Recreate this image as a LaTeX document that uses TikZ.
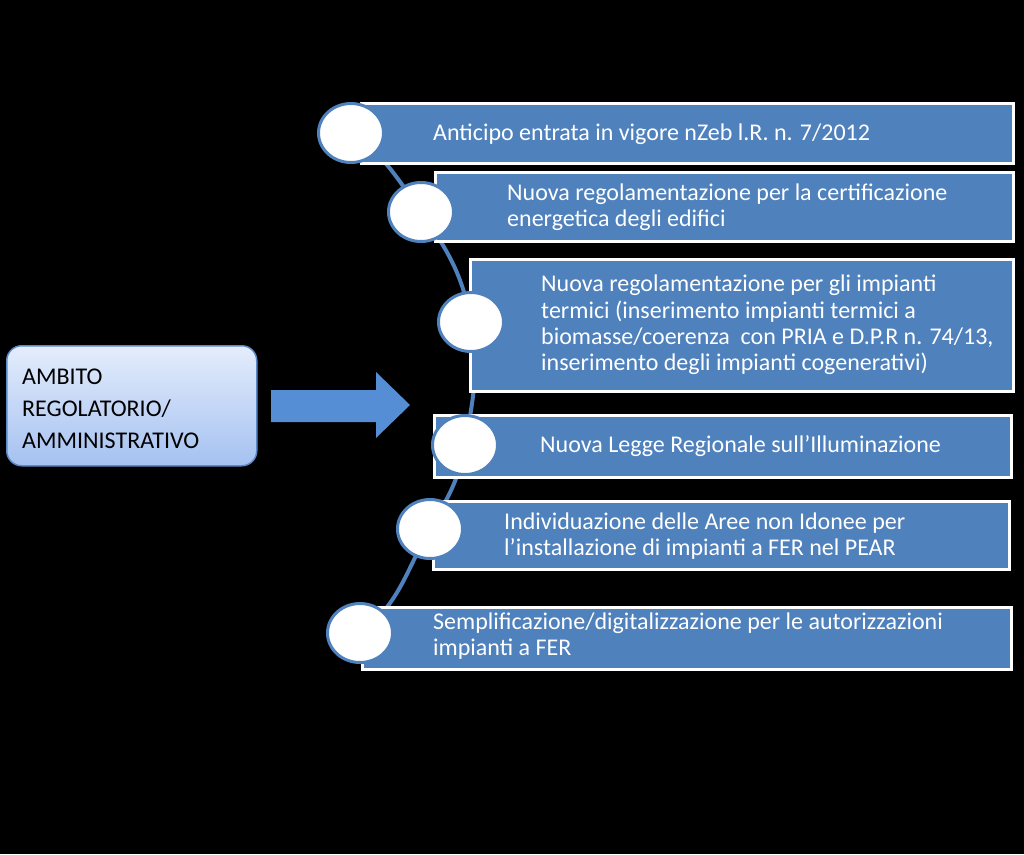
\documentclass[tikz,border=0pt]{standalone}
\usepackage{fontspec}
\setmainfont{Carlito}
\usetikzlibrary{shapes.geometric}
\definecolor{boxblue}{HTML}{4F81BD}
\definecolor{arrowblue}{HTML}{558ED5}
\definecolor{ambtop}{HTML}{E4EDFC}
\definecolor{ambbot}{HTML}{A5C1F1}
\definecolor{ambedge}{HTML}{5C8AC8}
\begin{document}
\begin{tikzpicture}[x=1pt,y=-1pt,
  itembox/.style={rectangle, fill=boxblue, draw=white, line width=2.5pt, anchor=north west, inner sep=0},
  dot/.style={ellipse, fill=white, draw=boxblue, line width=3pt, minimum width=65pt, minimum height=59pt, inner sep=0},
  itemtext/.style={anchor=west, text=white, font=\fontsize{24}{26.3}\selectfont, align=left, inner sep=0},
  arcline/.style={draw=boxblue, line width=4pt},
  ambbox/.style={rectangle, rounded corners=15pt, top color=ambtop, bottom color=ambbot, draw=ambedge, line width=1.5pt, anchor=north west, minimum width=250pt, minimum height=120pt, inner sep=0},
  ambtext/.style={anchor=west, text=black, font=\fontsize{24}{32}\selectfont, align=left, inner sep=0}]
\fill[black] (0,0) rectangle (1024,854);
\useasboundingbox (0,0) rectangle (1024,854);

% circle marker positions
\coordinate (p1) at (351,133);
\coordinate (p2) at (421,212);
\coordinate (p3) at (471,322);
\coordinate (p4) at (465,445);
\coordinate (p5) at (430,529);
\coordinate (p6) at (360,633);

\draw[arcline] (p1) to[out=-34,in=125] (p2) to[out=-55,in=100] (p3)
  to[out=-80,in=80] (p4) to[out=-100,in=60] (p5) to[out=-120,in=36] (p6);

% boxes
\node[itembox, minimum width=652pt, minimum height=60pt] (b1) at (360,102) {};
\node[itembox, minimum width=578pt, minimum height=69pt] (b2) at (434,171) {};
\node[itembox, minimum width=543pt, minimum height=132pt] (b3) at (469,258) {};
\node[itembox, minimum width=577pt, minimum height=62pt] (b4) at (433,414) {};
\node[itembox, minimum width=576pt, minimum height=68pt] (b5) at (432,500) {};
\node[itembox, minimum width=649pt, minimum height=62pt] (b6) at (361,606) {};

\node[dot] (c1) at (p1) {};
\node[dot] (c2) at (p2) {};
\node[dot] (c3) at (p3) {};
\node[dot] (c4) at (p4) {};
\node[dot] (c5) at (p5) {};
\node[dot] (c6) at (p6) {};

% texts
\node[itemtext] (t1) at (433,134) {Anticipo entrata in vigore nZeb l.R. n. 7/2012};
\node[itemtext] (t2) at (507,207) {Nuova regolamentazione per la certificazione\\energetica degli edifici};
\node[itemtext] (t3) at (541,325) {Nuova regolamentazione per gli impianti\\termici (inserimento impianti termici a\\biomasse/coerenza\ \ con PRIA e D.P.R n. 74/13,\\inserimento degli impianti cogenerativi)};
\node[itemtext] (t4) at (540,446) {Nuova Legge Regionale sull’Illuminazione};
\node[itemtext] (t5) at (504,536) {Individuazione delle Aree non Idonee per\\l’installazione di impianti a FER nel PEAR};
\node[itemtext] (t6) at (433,636) {Semplificazione/digitalizzazione per le autorizzazioni\\impianti a FER};

% left box and arrow
\node[ambbox] (amb) at (6,345) {};
\node[ambtext] (ambt) at (22,409) {AMBITO\\REGOLATORIO/\\AMMINISTRATIVO};
\fill[arrowblue] (271,390) -- (376,390) -- (376,372) -- (410,405) -- (376,438) -- (376,422) -- (271,422) -- cycle;
\end{tikzpicture}
\end{document}
